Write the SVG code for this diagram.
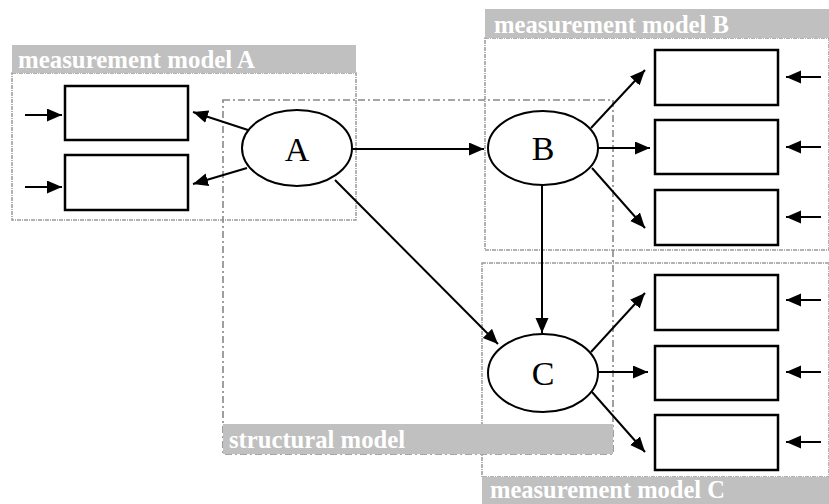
<svg xmlns="http://www.w3.org/2000/svg" width="829" height="504" viewBox="0 0 829 504">
<style>
.mbox{fill:none;stroke:#999999;stroke-width:1.5;stroke-dasharray:4 1 1 1}
.sbox{fill:none;stroke:#888888;stroke-width:1.6;stroke-dasharray:7 3 2 3}
.bar{fill:#c0c0c0;stroke:none}
.lbl{font-family:"Liberation Serif","Times New Roman",serif;font-weight:bold;font-size:25px;fill:#ffffff}
.ind{fill:#ffffff;stroke:#000;stroke-width:2.5}
.lat{fill:#ffffff;stroke:#000;stroke-width:2}
.nt{font-family:"Liberation Serif","Times New Roman",serif;font-size:34px;fill:#000;text-anchor:middle}
.c{stroke:#000;stroke-width:2;fill:none;marker-end:url(#ah)}
</style>
<defs>
<marker id="ah" markerUnits="userSpaceOnUse" markerWidth="16" markerHeight="14" refX="15" refY="6.5" orient="auto">
<path d="M0,0 L15,6.5 L0,13 z" fill="#000"/>
</marker>
</defs>
<rect width="829" height="504" fill="#ffffff"/>
<g id="measurement-model-A">
<rect class="mbox" x="12" y="73" width="344" height="147"/>
<rect class="bar" x="12" y="45" width="344" height="28"/>
<text class="lbl" x="18" y="68" textLength="237" lengthAdjust="spacingAndGlyphs">measurement model A</text>
</g>
<g id="measurement-model-B">
<rect class="mbox" x="485" y="38" width="344" height="212"/>
<rect class="bar" x="485" y="9" width="344" height="29"/>
<text class="lbl" x="494" y="33" textLength="235" lengthAdjust="spacingAndGlyphs">measurement model B</text>
</g>
<g id="measurement-model-C">
<rect class="mbox" x="482" y="263" width="347" height="214"/>
<rect class="bar" x="482" y="477" width="347" height="27"/>
<text class="lbl" x="490" y="498" font-size="24" textLength="235" lengthAdjust="spacingAndGlyphs">measurement model C</text>
</g>
<g id="structural-model">
<rect class="sbox" x="223" y="100" width="390" height="354"/>
<rect class="bar" x="223" y="424" width="390" height="30"/>
<text class="lbl" x="229" y="448" textLength="176" lengthAdjust="spacingAndGlyphs">structural model</text>
</g>
<g id="connectors">
<line class="c" x1="248" y1="130" x2="193" y2="112"/>
<line class="c" x1="247" y1="168" x2="193" y2="184"/>
<line class="c" x1="25" y1="115" x2="62" y2="115"/>
<line class="c" x1="25" y1="187" x2="62" y2="187"/>
<line class="c" x1="352" y1="149" x2="484" y2="149"/>
<line class="c" x1="335" y1="180" x2="498" y2="344"/>
<line class="c" x1="542" y1="185" x2="542" y2="333"/>
<line class="c" x1="591" y1="128" x2="645" y2="70"/>
<line class="c" x1="598" y1="148" x2="650" y2="148"/>
<line class="c" x1="592" y1="168" x2="645" y2="228"/>
<line class="c" x1="591" y1="352" x2="645" y2="293"/>
<line class="c" x1="598" y1="372" x2="648" y2="372"/>
<line class="c" x1="592" y1="392" x2="645" y2="452"/>
<line class="c" x1="821" y1="77" x2="786" y2="77"/>
<line class="c" x1="821" y1="147" x2="786" y2="147"/>
<line class="c" x1="821" y1="217" x2="786" y2="217"/>
<line class="c" x1="821" y1="300" x2="786" y2="300"/>
<line class="c" x1="821" y1="372" x2="786" y2="372"/>
<line class="c" x1="821" y1="442" x2="786" y2="442"/>
</g>
<g id="A"><ellipse class="lat" cx="297" cy="148" rx="55" ry="38"/><text class="nt" x="297" y="161">A</text></g>
<g id="B"><ellipse class="lat" cx="543" cy="148" rx="55" ry="37"/><text class="nt" x="543" y="160">B</text></g>
<g id="C"><ellipse class="lat" cx="543" cy="373" rx="55" ry="39"/><text class="nt" x="543" y="385">C</text></g>
<g id="A1"><rect class="ind" x="65" y="86" width="123" height="54"/></g>
<g id="A2"><rect class="ind" x="65" y="155" width="123" height="55"/></g>
<g id="B1"><rect class="ind" x="655" y="50" width="123" height="55"/></g>
<g id="B2"><rect class="ind" x="655" y="120" width="123" height="54"/></g>
<g id="B3"><rect class="ind" x="655" y="190" width="123" height="55"/></g>
<g id="C1"><rect class="ind" x="655" y="275" width="123" height="55"/></g>
<g id="C2"><rect class="ind" x="655" y="346" width="123" height="54"/></g>
<g id="C3"><rect class="ind" x="655" y="415" width="123" height="55"/></g>
</svg>
